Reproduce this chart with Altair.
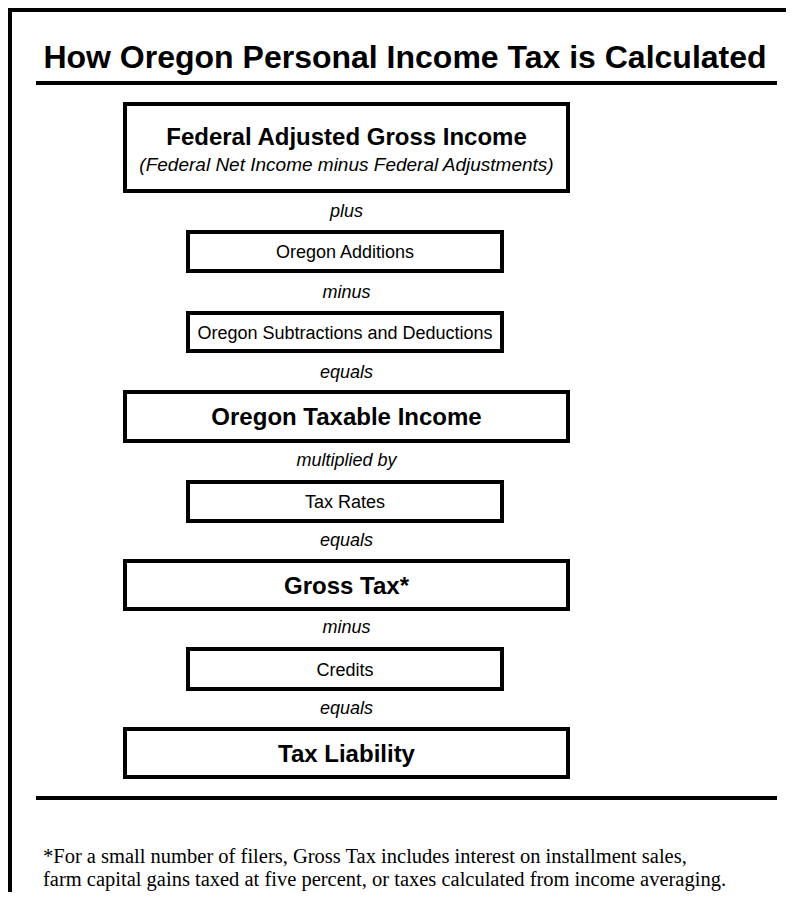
import altair as alt
import pandas as pd

# ---- content ----
title = "How Oregon Personal Income Tax is Calculated"
box_labels = ["Federal Adjusted Gross Income", "Oregon Additions",
              "Oregon Subtractions and Deductions", "Oregon Taxable Income",
              "Tax Rates", "Gross Tax*", "Credits", "Tax Liability"]
box_kind = ["major", "minor", "minor", "major", "minor", "major", "minor", "major"]
box_sub = "(Federal Net Income minus Federal Adjustments)"
operators = ["plus", "minus", "equals", "multiplied by", "equals", "minus", "equals"]
footnote = ["*For a small number of filers, Gross Tax includes interest on installment sales,",
            "farm capital gains taxed at five percent, or taxes calculated from income averaging."]

# ---- layout (page pixel coordinates) ----
box_top = [102, 230, 311, 390, 480, 559, 647, 727]
box_bottom = [193, 273, 353, 443, 523, 611, 691, 779]
major_x = (123, 570)
minor_x = (186, 504)
op_y = [212, 293, 373, 461, 541, 628, 709]
BW = 4  # box stroke
DY = 1.5  # small optical shift for middle-baseline text

M = 8
X0, X1 = M, 786   # visible chart area in page coordinates
Y0, Y1 = M, 892
SANS = "Arial, Liberation Sans, Helvetica, sans-serif"
SERIF = "Times New Roman, Liberation Serif, serif"

xs = alt.Scale(domain=[X0, X1], range=[0, X1 - X0], nice=False, zero=False)
ys = alt.Scale(domain=[Y0, Y1], range=[0, Y1 - Y0], nice=False, zero=False)
X = lambda f: alt.X(f, type="quantitative", scale=xs, axis=None)
Y = lambda f: alt.Y(f, type="quantitative", scale=ys, axis=None)

boxes = []
for lab, k, t, b in zip(box_labels, box_kind, box_top, box_bottom):
    x0, x1 = major_x if k == "major" else minor_x
    boxes.append(dict(label=lab, kind=k, x0=x0 + BW / 2, x1=x1 - BW / 2,
                      y0=t + BW / 2, y1=b - BW / 2, cx=(x0 + x1) / 2,
                      cy=(t + b) / 2 + DY))
boxes_df = pd.DataFrame(boxes)

rect = alt.Chart(boxes_df).mark_rect(fill="white", stroke="black", strokeWidth=BW).encode(
    x=X("x0"), x2="x1", y=Y("y0"), y2="y1")

major_df = boxes_df[boxes_df.kind == "major"].copy()
major_df.loc[major_df.index == 0, "cy"] = 136 + DY
major_txt = alt.Chart(major_df).mark_text(font=SANS, fontSize=24, fontWeight="bold",
                                          baseline="middle", align="center").encode(
    x=X("cx"), y=Y("cy"), text="label:N")
minor_txt = alt.Chart(boxes_df[boxes_df.kind == "minor"]).mark_text(
    font=SANS, fontSize=18, baseline="middle", align="center").encode(
    x=X("cx"), y=Y("cy"), text="label:N")

sub_df = pd.DataFrame([dict(text=box_sub, x=346.5, y=163 + DY)])
sub_txt = alt.Chart(sub_df).mark_text(font=SANS, fontSize=19, fontStyle="italic",
                                      baseline="middle", align="center").encode(
    x=X("x"), y=Y("y"), text="text:N")

op_df = pd.DataFrame(dict(text=operators, y=op_y, x=[346.5] * len(operators)))
op_txt = alt.Chart(op_df).mark_text(font=SANS, fontSize=18, fontStyle="italic",
                                    baseline="middle", align="center").encode(
    x=X("x"), y=Y("y"), text="text:N")

title_df = pd.DataFrame([dict(text=title, x=405, y=58)])
title_txt = alt.Chart(title_df).mark_text(font=SANS, fontSize=32, fontWeight="bold",
                                          baseline="middle", align="center").encode(
    x=X("x"), y=Y("y"), text="text:N")

foot_df = pd.DataFrame(dict(text=footnote, x=[43, 43], y=[857, 880]))
foot_txt = alt.Chart(foot_df).mark_text(font=SERIF, fontSize=20.5, baseline="middle",
                                        align="left").encode(
    x=X("x"), y=Y("y"), text="text:N")

lines_df = pd.DataFrame([
    dict(x0=X0, x1=X1, y0=10, y1=10, w=4),     # top border
    dict(x0=10, x1=10, y0=Y0, y1=Y1, w=4),     # left border
    dict(x0=36, x1=777, y0=83, y1=83, w=4),    # title underline
    dict(x0=36, x1=777, y0=798, y1=798, w=4),  # bottom rule
])
rules = alt.Chart(lines_df).mark_rule(color="black", strokeCap="butt").encode(
    x=X("x0"), x2="x1", y=Y("y0"), y2="y1",
    strokeWidth=alt.StrokeWidth("w:Q", scale=None, legend=None))

chart = alt.layer(rules, rect, major_txt, minor_txt, sub_txt, op_txt, title_txt, foot_txt).properties(
    width=X1 - X0, height=Y1 - Y0, padding=0, autosize="none"
).configure_view(stroke=None).configure(background="white")

chart.save("out.html", embed_options={"renderer": "svg", "actions": False})
